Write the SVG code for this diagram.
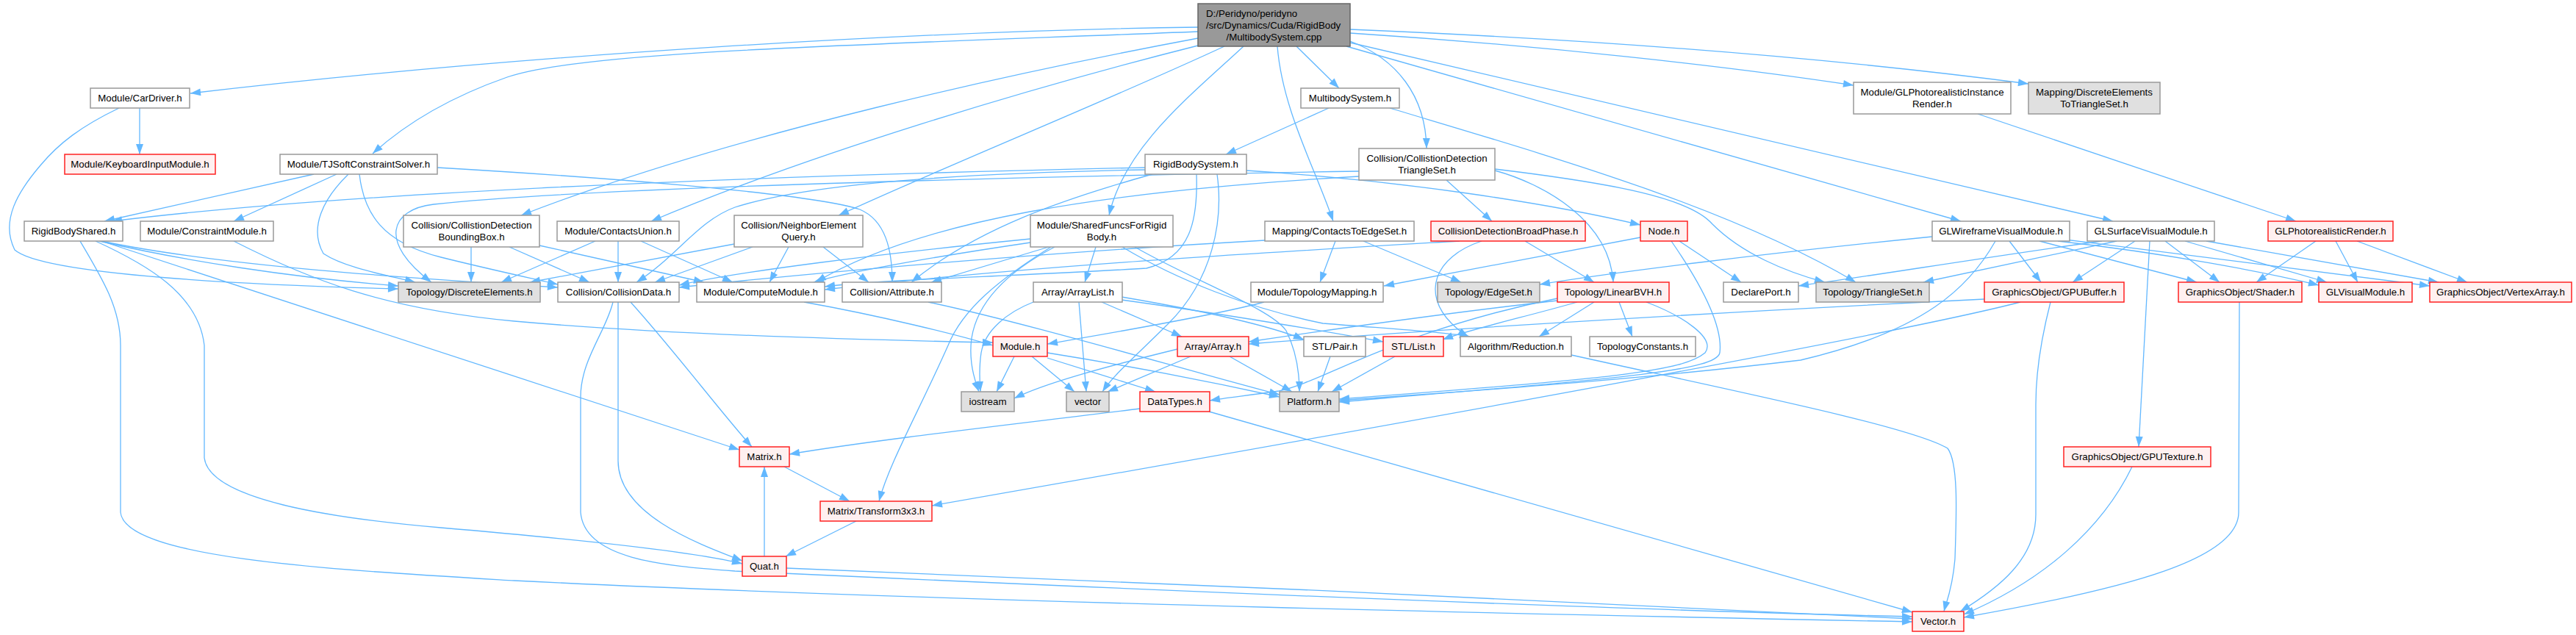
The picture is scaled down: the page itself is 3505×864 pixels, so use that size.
<svg xmlns="http://www.w3.org/2000/svg" width="3505" height="864" viewBox="0 0 3505 864">
<style>
.n rect{fill:#fff;stroke:#999;stroke-width:1.5}
.r rect{fill:#fff0f0;stroke:#f22;stroke-width:1.5}
.g rect{fill:#e0e0e0;stroke:#999;stroke-width:1.5}
.root rect{fill:#999;stroke:#666;stroke-width:1.5}
text{font-family:"Liberation Sans",Arial,Helvetica,sans-serif;font-size:13.3px;fill:#000;text-anchor:middle}
#edges path{fill:none;stroke:#63b8ff;stroke-width:1.3;marker-end:url(#a)}
</style>
<defs>
<marker id="a" markerUnits="userSpaceOnUse" markerWidth="14" markerHeight="10" refX="14" refY="5" orient="auto" overflow="visible"><path d="M0,0 L14,5 L0,10 z" fill="#63b8ff"/></marker>
</defs>
<rect width="3505" height="864" fill="#fff"/>
<g id="edges">
<path d="M1630,37 C1250,42 700,75 259,127"/>
<path d="M1630,43 C1150,62 790,70 690,105 C610,133 550,170 507,209"/>
<path d="M1630,52 C1400,95 1000,180 709,293"/>
<path d="M1630,62 C1400,120 1100,210 886,301"/>
<path d="M1666,63 C1500,140 1300,220 1141,293"/>
<path d="M1692,63 C1620,130 1530,200 1509,293"/>
<path d="M1738,63 C1745,150 1790,230 1814,301"/>
<path d="M1764,63 L1822,120"/>
<path d="M1837,56 C1900,80 1940,130 1941,202"/>
<path d="M1837,40 C2200,55 2500,80 2760,114"/>
<path d="M1837,45 C2100,62 2350,90 2522,116"/>
<path d="M1837,58 L2875,301"/>
<path d="M1832,63 L2668,301"/>
<path d="M190,147 L190,210"/>
<path d="M162,147 C110,172 80,195 55,225 C25,260 0,300 20,340 C60,375 350,388 542,393"/>
<path d="M427,237 L142,301"/>
<path d="M458,237 L318,301"/>
<path d="M474,237 C440,270 420,310 440,345 C470,365 530,375 565,384"/>
<path d="M489,237 C495,290 520,330 600,350 C660,365 720,378 759,387"/>
<path d="M595,228 C800,240 1100,262 1170,285 C1205,300 1214,340 1214,384"/>
<path d="M135,328 C250,355 400,378 542,389"/>
<path d="M138,328 C300,362 550,378 759,391"/>
<path d="M141,329 L1006,612"/>
<path d="M130,328 C200,360 270,400 278,470 L278,623 C285,680 450,705 600,718 C800,735 950,752 1010,767"/>
<path d="M109,328 C140,380 164,420 164,470 L164,697 C170,760 450,775 700,790 C1300,820 2200,838 2602,846"/>
<path d="M318,328 C420,380 520,420 700,437 C900,455 1150,462 1351,466"/>
<path d="M641,336 L641,384"/>
<path d="M693,336 L802,384"/>
<path d="M734,334 L958,384"/>
<path d="M810,328 L682,384"/>
<path d="M841,328 L841,384"/>
<path d="M872,328 L997,384"/>
<path d="M999,332 L721,384"/>
<path d="M1024,336 L891,384"/>
<path d="M1073,336 L1047,384"/>
<path d="M1120,336 L1182,384"/>
<path d="M1402,325 C1200,345 1000,370 924,388"/>
<path d="M1402,330 C1300,345 1160,368 1107,384"/>
<path d="M1427,336 L1267,384"/>
<path d="M1491,336 L1476,384"/>
<path d="M1430,336 C1360,380 1310,420 1290,470 C1250,560 1210,630 1196,682"/>
<path d="M1435,336 C1370,370 1330,410 1322,460 C1318,490 1325,515 1332,533"/>
<path d="M1527,336 C1600,380 1700,420 1800,440 C1900,448 1970,452 2000,458"/>
<path d="M1544,336 C1620,380 1730,420 1750,450 C1765,480 1768,510 1768,533"/>
<path d="M1558,228 C1100,238 500,258 152,301"/>
<path d="M1696,232 C1900,245 2100,275 2232,306"/>
<path d="M1568,237 C1450,270 1330,310 1240,384"/>
<path d="M1656,237 C1665,300 1650,380 1590,440 C1550,480 1515,510 1500,533"/>
<path d="M1628,237 C1630,300 1620,350 1560,365 C1400,375 1200,380 1122,390"/>
<path d="M1558,231 C1300,236 1100,250 1000,282 C950,300 920,350 866,384"/>
<path d="M1808,147 L1668,210"/>
<path d="M1891,147 C2100,210 2350,280 2525,384"/>
<path d="M1721,327 C1400,345 1100,372 924,391"/>
<path d="M1817,328 L1796,384"/>
<path d="M1855,328 L1988,384"/>
<path d="M1849,233 C1400,240 800,255 590,278 C530,285 515,330 587,384"/>
<path d="M1849,240 C1500,260 1250,300 1110,384"/>
<path d="M1968,245 L2030,301"/>
<path d="M2034,232 C2100,250 2190,300 2195,384"/>
<path d="M2034,230 C2200,250 2300,270 2330,305 C2370,345 2430,370 2483,384"/>
<path d="M1986,328 C1700,345 1400,362 1122,394"/>
<path d="M2016,328 C1950,350 1935,400 1975,440 C1985,450 1993,455 1998,458"/>
<path d="M2075,328 L2169,384"/>
<path d="M2232,323 L1883,389"/>
<path d="M2285,328 L2369,384"/>
<path d="M2274,328 C2310,380 2345,440 2340,480 C2335,505 2200,515 1822,547"/>
<path d="M2119,409 C1950,428 1800,450 1699,465"/>
<path d="M2146,411 C2080,430 2000,448 1963,462"/>
<path d="M2169,411 L2094,458"/>
<path d="M2203,411 L2221,458"/>
<path d="M2240,411 C2290,430 2335,460 2320,480 C2290,505 2200,515 1822,543"/>
<path d="M2119,406 C1900,450 1800,520 1740,532 C1700,538 1670,541 1646,545"/>
<path d="M2629,322 C2400,345 2200,370 2095,387"/>
<path d="M2734,328 L2777,384"/>
<path d="M2715,328 C2680,390 2620,450 2450,490 C2200,520 1950,535 1822,545"/>
<path d="M2775,328 L2989,384"/>
<path d="M2800,328 C2950,345 3080,370 3155,388"/>
<path d="M2810,326 C3000,350 3200,375 3306,389"/>
<path d="M2860,328 C2700,350 2550,375 2447,389"/>
<path d="M2880,328 L2617,384"/>
<path d="M2905,328 L2820,384"/>
<path d="M2925,328 L2910,608"/>
<path d="M2946,328 L3020,384"/>
<path d="M2973,328 L3166,384"/>
<path d="M3002,328 L3318,384"/>
<path d="M2691,155 L3124,301"/>
<path d="M3151,328 L3070,384"/>
<path d="M3178,328 L3208,384"/>
<path d="M3207,328 L3357,384"/>
<path d="M2700,407 C2400,422 2000,445 1699,468"/>
<path d="M2749,411 C2600,450 2000,560 1268,688"/>
<path d="M2790,411 C2780,450 2770,500 2770,550 L2770,700 C2770,760 2720,800 2667,832"/>
<path d="M3047,411 L3046,697 C3046,760 2900,800 2672,840"/>
<path d="M2901,635 C2860,720 2780,790 2672,836"/>
<path d="M1380,485 L1356,533"/>
<path d="M1404,485 L1462,533"/>
<path d="M1425,487 L1572,533"/>
<path d="M1425,480 C1550,500 1650,520 1741,540"/>
<path d="M1602,475 C1500,500 1420,522 1380,542"/>
<path d="M1620,485 L1507,533"/>
<path d="M1673,485 L1758,533"/>
<path d="M1551,556 C1400,575 1200,597 1074,618"/>
<path d="M1645,560 L2602,833"/>
<path d="M1810,485 L1793,533"/>
<path d="M1898,485 L1812,533"/>
<path d="M2138,483 C2350,530 2600,580 2650,610 C2665,630 2662,700 2660,760 C2657,800 2648,820 2645,832"/>
<path d="M1263,411 C1400,440 1600,500 1741,537"/>
<path d="M1468,411 L1478,533"/>
<path d="M1499,411 L1608,458"/>
<path d="M1526,404 C1620,420 1720,440 1774,462"/>
<path d="M1526,408 C1650,425 1800,450 1882,465"/>
<path d="M1406,411 C1370,425 1340,450 1335,480 C1332,500 1333,520 1334,533"/>
<path d="M1094,411 C1200,430 1300,455 1351,470"/>
<path d="M858,411 C920,480 980,560 1023,608"/>
<path d="M841,411 L841,627 C841,700 950,740 1010,763"/>
<path d="M834,411 C825,450 790,490 790,540 L790,697 C795,760 900,770 1000,777 C1500,800 2200,830 2602,839"/>
<path d="M1067,635 L1156,682"/>
<path d="M1165,709 L1069,757"/>
<path d="M1040,757 L1040,635"/>
<path d="M1070,773 C1500,790 2200,820 2602,842"/>
<path d="M1720,411 C1650,430 1500,455 1425,468"/>
</g>
<g id="n_root" class="root"><rect x="1630" y="5" width="207" height="58"/><text x="1641" y="23" style="text-anchor:start">D:/Peridyno/peridyno</text><text x="1641" y="39" style="text-anchor:start">/src/Dynamics/Cuda/RigidBody</text><text x="1733.5" y="55">/MultibodySystem.cpp</text></g>
<g id="n_cardriver" class="n"><rect x="123" y="120" width="135" height="27"/><text x="190.5" y="138">Module/CarDriver.h</text></g>
<g id="n_keyboard" class="r"><rect x="88" y="210" width="205" height="27"/><text x="190.5" y="228">Module/KeyboardInputModule.h</text></g>
<g id="n_tjsoft" class="n"><rect x="381" y="210" width="214" height="27"/><text x="488" y="228">Module/TJSoftConstraintSolver.h</text></g>
<g id="n_rbshared" class="n"><rect x="33" y="301" width="134" height="27"/><text x="100" y="319">RigidBodyShared.h</text></g>
<g id="n_constraint" class="n"><rect x="191" y="301" width="181" height="27"/><text x="281.5" y="319">Module/ConstraintModule.h</text></g>
<g id="n_discrete" class="g"><rect x="542" y="384" width="193" height="27"/><text x="638.5" y="402">Topology/DiscreteElements.h</text></g>
<g id="n_bbox" class="n"><rect x="549" y="293" width="185" height="43"/><text x="641.5" y="311">Collision/CollistionDetection</text><text x="641.5" y="327">BoundingBox.h</text></g>
<g id="n_cunion" class="n"><rect x="758" y="301" width="166" height="27"/><text x="841" y="319">Module/ContactsUnion.h</text></g>
<g id="n_neighbor" class="n"><rect x="999" y="293" width="175" height="43"/><text x="1086.5" y="311">Collision/NeighborElement</text><text x="1086.5" y="327">Query.h</text></g>
<g id="n_cdata" class="n"><rect x="759" y="384" width="165" height="27"/><text x="841.5" y="402">Collision/CollisionData.h</text></g>
<g id="n_compute" class="n"><rect x="948" y="384" width="174" height="27"/><text x="1035" y="402">Module/ComputeModule.h</text></g>
<g id="n_attr" class="n"><rect x="1146" y="384" width="135" height="27"/><text x="1213.5" y="402">Collision/Attribute.h</text></g>
<g id="n_rbsystem" class="n"><rect x="1558" y="210" width="138" height="27"/><text x="1627" y="228">RigidBodySystem.h</text></g>
<g id="n_shared" class="n"><rect x="1402" y="293" width="194" height="43"/><text x="1499" y="311">Module/SharedFuncsForRigid</text><text x="1499" y="327">Body.h</text></g>
<g id="n_arraylist" class="n"><rect x="1406" y="384" width="121" height="27"/><text x="1466.5" y="402">Array/ArrayList.h</text></g>
<g id="n_c2edge" class="n"><rect x="1721" y="301" width="203" height="27"/><text x="1822.5" y="319">Mapping/ContactsToEdgeSet.h</text></g>
<g id="n_topomap" class="n"><rect x="1702" y="384" width="180" height="27"/><text x="1792" y="402">Module/TopologyMapping.h</text></g>
<g id="n_multibody" class="n"><rect x="1770" y="120" width="134" height="27"/><text x="1837" y="138">MultibodySystem.h</text></g>
<g id="n_cdtri" class="n"><rect x="1849" y="202" width="185" height="43"/><text x="1941.5" y="220">Collision/CollistionDetection</text><text x="1941.5" y="236">TriangleSet.h</text></g>
<g id="n_broad" class="r"><rect x="1947" y="301" width="210" height="27"/><text x="2052" y="319">CollisionDetectionBroadPhase.h</text></g>
<g id="n_node" class="r"><rect x="2232" y="301" width="64" height="27"/><text x="2264" y="319">Node.h</text></g>
<g id="n_edgeset" class="g"><rect x="1956" y="384" width="139" height="27"/><text x="2025.5" y="402">Topology/EdgeSet.h</text></g>
<g id="n_lbvh" class="r"><rect x="2119" y="384" width="152" height="27"/><text x="2195" y="402">Topology/LinearBVH.h</text></g>
<g id="n_glpir" class="n"><rect x="2522" y="112" width="214" height="43"/><text x="2629" y="130">Module/GLPhotorealisticInstance</text><text x="2629" y="146">Render.h</text></g>
<g id="n_de2tri" class="g"><rect x="2760" y="112" width="179" height="43"/><text x="2849.5" y="130">Mapping/DiscreteElements</text><text x="2849.5" y="146">ToTriangleSet.h</text></g>
<g id="n_glwire" class="n"><rect x="2629" y="301" width="187" height="27"/><text x="2722.5" y="319">GLWireframeVisualModule.h</text></g>
<g id="n_glsurf" class="n"><rect x="2840" y="301" width="173" height="27"/><text x="2926.5" y="319">GLSurfaceVisualModule.h</text></g>
<g id="n_declare" class="n"><rect x="2345" y="384" width="102" height="27"/><text x="2396" y="402">DeclarePort.h</text></g>
<g id="n_triset" class="g"><rect x="2471" y="384" width="154" height="27"/><text x="2548" y="402">Topology/TriangleSet.h</text></g>
<g id="n_gpubuf" class="r"><rect x="2700" y="384" width="190" height="27"/><text x="2795" y="402">GraphicsObject/GPUBuffer.h</text></g>
<g id="n_glpr" class="r"><rect x="3086" y="301" width="170" height="27"/><text x="3171" y="319">GLPhotorealisticRender.h</text></g>
<g id="n_shader" class="r"><rect x="2964" y="384" width="168" height="27"/><text x="3048" y="402">GraphicsObject/Shader.h</text></g>
<g id="n_glvis" class="r"><rect x="3155" y="384" width="127" height="27"/><text x="3218.5" y="402">GLVisualModule.h</text></g>
<g id="n_vao" class="r"><rect x="3306" y="384" width="193" height="27"/><text x="3402.5" y="402">GraphicsObject/VertexArray.h</text></g>
<g id="n_module" class="r"><rect x="1351" y="458" width="74" height="27"/><text x="1388" y="476">Module.h</text></g>
<g id="n_array" class="r"><rect x="1602" y="458" width="97" height="27"/><text x="1650.5" y="476">Array/Array.h</text></g>
<g id="n_pair" class="n"><rect x="1774" y="458" width="84" height="27"/><text x="1816" y="476">STL/Pair.h</text></g>
<g id="n_list" class="r"><rect x="1882" y="458" width="82" height="27"/><text x="1923" y="476">STL/List.h</text></g>
<g id="n_reduction" class="n"><rect x="1987" y="458" width="151" height="27"/><text x="2062.5" y="476">Algorithm/Reduction.h</text></g>
<g id="n_topoconst" class="n"><rect x="2163" y="458" width="144" height="27"/><text x="2235" y="476">TopologyConstants.h</text></g>
<g id="n_iostream" class="g"><rect x="1308" y="533" width="72" height="27"/><text x="1344" y="551">iostream</text></g>
<g id="n_vector" class="g"><rect x="1451" y="533" width="58" height="27"/><text x="1480" y="551">vector</text></g>
<g id="n_datatypes" class="r"><rect x="1551" y="533" width="95" height="27"/><text x="1598.5" y="551">DataTypes.h</text></g>
<g id="n_platform" class="g"><rect x="1741" y="533" width="81" height="27"/><text x="1781.5" y="551">Platform.h</text></g>
<g id="n_matrix" class="r"><rect x="1006" y="608" width="68" height="27"/><text x="1040" y="626">Matrix.h</text></g>
<g id="n_gputex" class="r"><rect x="2808" y="608" width="200" height="27"/><text x="2908" y="626">GraphicsObject/GPUTexture.h</text></g>
<g id="n_t3x3" class="r"><rect x="1116" y="682" width="152" height="27"/><text x="1192" y="700">Matrix/Transform3x3.h</text></g>
<g id="n_quat" class="r"><rect x="1010" y="757" width="60" height="27"/><text x="1040" y="775">Quat.h</text></g>
<g id="n_vecmath" class="r"><rect x="2602" y="832" width="70" height="27"/><text x="2637" y="850">Vector.h</text></g>
</svg>
